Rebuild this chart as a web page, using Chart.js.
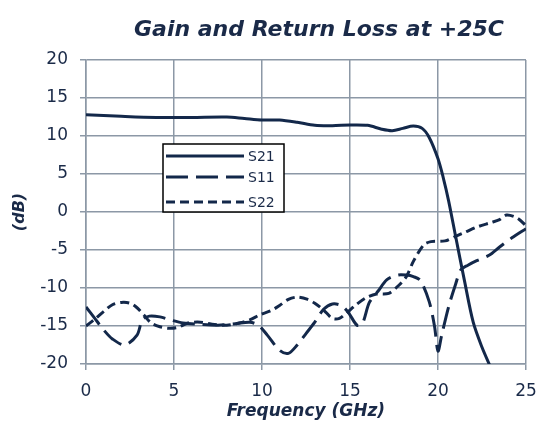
<!DOCTYPE html>
<html>
<head>
<meta charset="utf-8">
<script src="https://cdn.jsdelivr.net/npm/chart.js@4.4.1/dist/chart.umd.min.js"></script>
<style>
  html, body { margin: 0; padding: 0; background: #fff; }
  #wrap { position: relative; width: 538px; height: 438px; }
</style>
</head>
<body>
<div id="wrap"><canvas id="main-chart"></canvas></div>
<script>
// values (GHz, dB)
const s21Freq = [0, 2, 4, 6, 8, 9, 10, 11, 12, 13, 14, 15, 16, 16.8, 17.4, 18, 18.6, 19.1, 19.5, 20, 20.3, 20.6, 21, 21.5, 22, 22.5, 23];
const s21Db   = [12.8, 12.6, 12.45, 12.45, 12.5, 12.3, 12.1, 12.1, 11.8, 11.4, 11.35, 11.45, 11.4, 10.9, 10.7, 11.0, 11.3, 11.0, 9.8, 7.0, 4.5, 1.5, -3.2, -9.0, -14.5, -17.8, -20.5];

const s11Freq = [0, 0.5, 1, 1.5, 2.2, 2.9, 3.2, 3.6, 4.2, 4.8, 5.5, 6.5, 7.5, 8.5, 9.3, 9.8, 10.3, 11, 11.5, 12, 12.5, 13, 13.5, 14, 14.5, 14.9, 15.4, 15.7, 16.1, 16.6, 17.1, 17.7, 18.2, 18.6, 19, 19.5, 19.8, 20, 20.2, 20.6, 21, 21.3, 21.7, 22.2, 22.9, 23.5, 24.2, 25];
const s11Db   = [-12.5, -14, -15.5, -16.7, -17.5, -16.2, -14.2, -13.7, -13.8, -14.2, -14.6, -14.8, -14.9, -14.7, -14.5, -14.9, -16.2, -18.2, -18.6, -17.5, -16, -14.5, -12.8, -12.1, -12.3, -13.2, -14.9, -14.7, -11.9, -10.4, -8.9, -8.3, -8.3, -8.5, -9.0, -11.8, -15.0, -18.3, -16.3, -12.5, -9.5, -7.6, -7.0, -6.4, -5.7, -4.6, -3.4, -2.2];

const s22Freq = [0, 0.5, 1, 1.5, 2, 2.5, 2.9, 3.3, 3.7, 4.2, 4.7, 5.2, 5.8, 6.5, 7.3, 8, 8.7, 9.3, 9.9, 10.5, 11, 11.5, 12, 12.6, 13, 13.5, 14, 14.4, 14.8, 15.3, 15.9, 16.5, 17.2, 17.7, 18.2, 18.6, 19.2, 19.6, 20.4, 21, 21.5, 22.3, 23, 23.5, 23.9, 24.5, 25];
const s22Db   = [-15, -14.1, -13.1, -12.2, -11.9, -12, -12.6, -13.6, -14.6, -15.1, -15.3, -15.2, -14.6, -14.5, -14.8, -14.9, -14.6, -14.2, -13.5, -13, -12.3, -11.5, -11.2, -11.5, -12, -12.9, -14, -14, -13.3, -12.3, -11.3, -10.8, -10.7, -9.8, -8.5, -6.5, -4.3, -3.9, -3.8, -3.2, -2.7, -1.9, -1.4, -1.0, -0.4, -0.8, -1.8];

const seriesNames = ['S21', 'S11', 'S22'];
const xTicks = [0, 5, 10, 15, 20, 25];
const yTicks = [-20, -15, -10, -5, 0, 5, 10, 15, 20];

const navy = '#13284a';
const textCol = '#1a2a48';
const gridCol = '#8c98a6';
const font = "'DejaVu Sans', sans-serif";

const pts = (xs, ys) => xs.map((x, i) => ({ x, y: ys[i] }));

const titlePlugin = {
  id: 'plotTitle',
  afterDraw(ch) {
    const c = ch.ctx;
    c.save();
    c.font = `italic bold 22px ${font}`;
    c.fillStyle = textCol;
    c.textAlign = 'center';
    c.textBaseline = 'alphabetic';
    c.fillText('Gain and Return Loss at +25C', 319, 36);
    c.restore();
  }
};

const boxLegend = {
  id: 'boxLegend',
  afterDatasetsDraw(ch) {
    const c = ch.ctx;
    const lx = 163, ly = 144, w = 121, h = 68;
    c.save();
    c.fillStyle = '#fff';
    c.fillRect(lx, ly, w, h);
    c.strokeStyle = '#000';
    c.lineWidth = 1.5;
    c.strokeRect(lx, ly, w, h);
    const rows = [156, 177, 202];
    c.font = `14px ${font}`;
    c.textBaseline = 'middle';
    c.textAlign = 'left';
    ch.data.datasets.forEach((ds, i) => {
      c.strokeStyle = ds.borderColor;
      c.lineWidth = ds.borderWidth;
      c.setLineDash(ds.borderDash || []);
      c.beginPath();
      c.moveTo(lx + 3, rows[i]);
      c.lineTo(lx + 81, rows[i]);
      c.stroke();
      c.setLineDash([]);
      c.fillStyle = textCol;
      c.fillText(ds.label, lx + 85, rows[i] + 1);
    });
    c.restore();
  }
};

const lineDs = (label, data, dash) => ({
  label, data,
  borderColor: navy, backgroundColor: navy,
  borderWidth: 3, borderDash: dash,
  pointRadius: 0, showLine: true, tension: 0.3, fill: false
});

const chart = new Chart(document.getElementById('main-chart'), {
  type: 'scatter',
  data: {
    datasets: [
      lineDs(seriesNames[0], pts(s21Freq, s21Db), []),
      lineDs(seriesNames[1], pts(s11Freq, s11Db), [22, 8]),
      lineDs(seriesNames[2], pts(s22Freq, s22Db), [9, 5]),
    ]
  },
  options: {
    responsive: true, maintainAspectRatio: false,
    animation: false,
    layout: { padding: { top: 60, right: 12, bottom: 0, left: 0 } },
    plugins: { legend: { display: false }, tooltip: { enabled: false } },
    scales: {
      x: {
        type: 'linear', min: 0, max: 25,
        afterFit: s => { s.height = 74; s.paddingLeft = 0; s.paddingRight = 0; },
        afterBuildTicks: s => { s.ticks = xTicks.map(v => ({ value: v })); },
        title: { display: true, text: 'Frequency (GHz)', color: textCol, padding: { top: 0, bottom: 16 },
                 font: { family: font, size: 17, style: 'italic', weight: 'bold' } },
        grid: { color: gridCol, lineWidth: 1.5, tickLength: 6 },
        border: { color: gridCol, width: 1.5 },
        ticks: { color: textCol, padding: 11, font: { family: font, size: 17 } }
      },
      y: {
        type: 'linear', min: -20, max: 20,
        afterFit: s => { s.width = 86; },
        afterBuildTicks: s => { s.ticks = yTicks.map(v => ({ value: v })); },
        title: { display: true, text: '(dB)', color: textCol, padding: { top: 10, bottom: 0 },
                 font: { family: font, size: 16, style: 'italic', weight: 'bold' } },
        grid: { color: gridCol, lineWidth: 1.5, tickLength: 6 },
        border: { color: gridCol, width: 1.5 },
        ticks: { color: textCol, padding: 12, font: { family: font, size: 17 } }
      }
    }
  },
  plugins: [boxLegend, titlePlugin]
});
</script>
</body>
</html>
